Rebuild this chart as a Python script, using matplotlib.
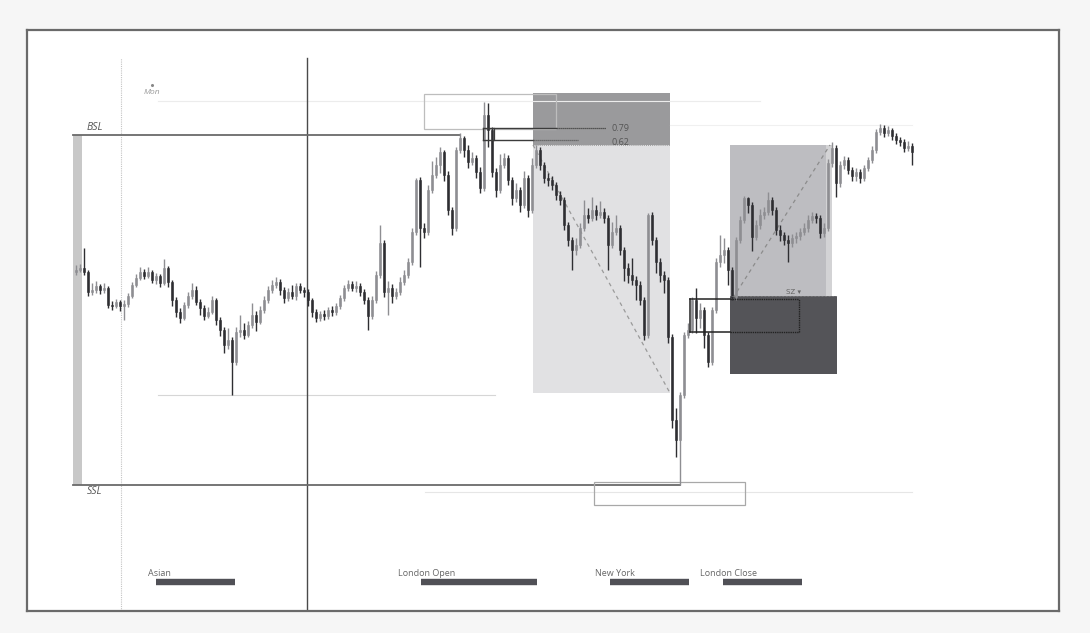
import matplotlib
matplotlib.use("Agg")
import matplotlib.pyplot as plt
from matplotlib.patches import Rectangle
import numpy as np

# ---------------- data (candles: open = previous close) ----------------
first_open = 361
closes = [363, 365, 361, 341, 343, 347, 343, 345, 328, 327, 331, 327, 329, 337, 348, 355, 361, 357, 361, 353,
          357, 350, 365, 351, 333, 321, 315, 328, 337, 343, 331, 325, 317, 321, 333, 313, 303, 288, 293, 271,
          301, 303, 298, 308, 318, 311, 323, 333, 343, 348, 351, 343, 335, 341, 337, 347, 343, 341, 333, 321,
          315, 319, 317, 323, 321, 327, 335, 345, 349, 345, 347, 341, 333, 317, 333, 358, 390, 341, 345, 337,
          341, 351, 358, 371, 401, 453, 405, 401, 443, 458, 468, 481, 458, 423, 405, 483, 495, 483, 471, 475,
          461, 445, 518, 503, 461, 443, 468, 475, 453, 435, 443, 428, 455, 423, 468, 483, 468, 455, 453, 448,
          438, 433, 408, 393, 383, 388, 405, 418, 415, 423, 418, 421, 415, 388, 401, 405, 383, 365, 358, 353,
          348, 333, 298, 418, 393, 371, 358, 353, 296, 213, 193, 238, 298, 303, 333, 315, 323, 298, 271, 323,
          371, 378, 383, 363, 336, 393, 413, 435, 428, 396, 408, 418, 421, 433, 423, 403, 398, 393, 390, 395,
          397, 401, 405, 413, 417, 415, 400, 405, 470, 485, 450, 468, 473, 463, 457, 461, 455, 465, 473, 483,
          501, 505, 500, 503, 497, 493, 491, 485, 487, 481]
highs = [368, 369, 385, 363, 350, 352, 349, 350, 347, 332, 334, 333, 333, 340, 351, 359, 366, 364, 366, 363,
         360, 359, 374, 367, 353, 336, 325, 331, 341, 350, 347, 334, 328, 326, 337, 335, 316, 306, 305, 296,
         306, 318, 310, 312, 330, 322, 327, 337, 347, 353, 356, 354, 346, 345, 348, 350, 350, 346, 344, 335,
         324, 322, 323, 326, 327, 330, 338, 348, 353, 352, 352, 350, 344, 336, 337, 362, 408, 393, 352, 349,
         345, 356, 363, 375, 405, 455, 456, 410, 448, 472, 476, 486, 483, 462, 426, 486, 500, 497, 488, 481,
         478, 466, 531, 530, 506, 465, 479, 480, 478, 456, 450, 446, 462, 458, 475, 488, 486, 471, 460, 457,
         451, 442, 436, 411, 396, 395, 410, 433, 425, 436, 428, 432, 425, 418, 411, 418, 408, 386, 370, 375,
         357, 352, 336, 420, 421, 396, 375, 362, 356, 299, 225, 241, 301, 310, 336, 345, 330, 326, 301, 326,
         375, 398, 395, 386, 366, 396, 417, 437, 436, 431, 413, 424, 426, 441, 436, 426, 408, 401, 398, 399,
         401, 405, 410, 418, 421, 420, 418, 410, 474, 491, 488, 472, 477, 476, 466, 465, 464, 468, 476, 487,
         504, 509, 508, 507, 505, 500, 496, 494, 492, 490]
lows = [358, 361, 358, 337, 338, 340, 339, 340, 325, 323, 325, 322, 313, 326, 335, 346, 353, 354, 355, 350,
        349, 346, 348, 346, 327, 316, 310, 313, 325, 334, 328, 318, 313, 315, 319, 308, 297, 280, 284, 238,
        268, 296, 294, 296, 305, 302, 309, 320, 330, 340, 345, 338, 330, 332, 334, 333, 340, 336, 327, 316,
        311, 312, 313, 314, 317, 318, 324, 332, 342, 342, 341, 337, 329, 303, 314, 330, 355, 336, 318, 330,
        334, 338, 348, 355, 368, 398, 366, 395, 398, 440, 455, 460, 452, 418, 398, 402, 480, 476, 465, 468,
        455, 440, 442, 486, 456, 436, 440, 465, 448, 428, 431, 421, 425, 416, 420, 465, 463, 450, 447, 443,
        433, 428, 403, 387, 363, 378, 385, 402, 410, 412, 413, 415, 410, 363, 385, 398, 378, 352, 350, 348,
        333, 328, 293, 295, 388, 360, 351, 340, 290, 205, 176, 148, 235, 295, 300, 300, 305, 285, 266, 268,
        320, 366, 370, 348, 333, 333, 390, 410, 420, 382, 393, 404, 414, 418, 418, 398, 392, 388, 371, 386,
        390, 393, 398, 401, 410, 410, 395, 396, 402, 466, 436, 446, 464, 459, 452, 452, 450, 452, 462, 470,
        480, 498, 496, 497, 493, 489, 487, 481, 482, 468]

sessions = ["Asian", "London Open", "New York", "London Close"]
session_start = [20, 86.25, 133.5, 161.75]
session_end = [39.75, 115.25, 153.25, 181.5]
session_label_x = [18, 80.5, 129.75, 156]
fib_levels = ["0.79", "0.62"]

opens = [first_open] + closes[:-1]
n = len(closes)
idx = np.arange(n)
o = np.array(opens, float); c = np.array(closes, float)
h = np.array(highs, float); l = np.array(lows, float)

bull_col = "#8e8e92"
bear_col = "#2e2e32"

fig = plt.figure(figsize=(10.9, 6.33), dpi=100)
fig.patch.set_facecolor("#f6f6f6")
ax = fig.add_axes([27/1090, 1-611/633, (1059-27)/1090, (611-30)/633])
ax.set_facecolor("white")
ax.set_xlim(-12.25, 245.75)
ax.set_ylim(22, 603)
ax.set_xticks([]); ax.set_yticks([])
for s in ax.spines.values():
    s.set_color("#6a6a6a"); s.set_linewidth(1.6)

BSL = 498
SSL = l[151]

# zones
ax.add_patch(Rectangle((114.25, 240), 148.5-114.25, 488-240, fc="#e1e1e3", ec="none", zorder=1))
ax.add_patch(Rectangle((114.25, 488), 148.5-114.25, 540-488, fc="#9a9a9c", ec="none", zorder=1))
ax.add_patch(Rectangle((163.5, 337), 189-163.5, 488-337, fc="#bdbdc1", ec="none", zorder=1))
ax.add_patch(Rectangle((187.6, 337), 189-187.6, 488-337, fc="#d3d3d5", ec="none", zorder=1))
ax.add_patch(Rectangle((163.5, 259), 190.25-163.5, 337-259, fc="#545458", ec="none", zorder=1))

# thin reference lines
ax.plot([20.5, 171], [532, 532], color="#ececec", lw=0.8, zorder=1)
ax.plot([148.5, 209], [508, 508], color="#f0f0f0", lw=0.8, zorder=1)
ax.plot([20.5, 104.75], [238, 238], color="#d6d6d6", lw=0.8, zorder=1)
ax.plot([87.25, 209], [141, 141], color="#e6e6e6", lw=0.8, zorder=1)

# verticals
ax.plot([11.25, 11.25], [22, 575], color="#c4c4c4", lw=0.8, ls=(0, (1, 1)), zorder=1)
ax.plot([57.75, 57.75], [22, 575], color="#4a4a4a", lw=1.0, zorder=2)

# left gray bar
ax.add_patch(Rectangle((-0.75, SSL), 2.25, BSL-SSL, fc="#c8c8c8", ec="none", zorder=1))

# BSL / SSL
ax.plot([-0.75, 96], [BSL, BSL], color="#6a6a6a", lw=1.3, zorder=2)
ax.plot([-0.75, 151], [SSL, SSL], color="#6a6a6a", lw=1.3, zorder=2)
ax.text(2.75, 503, "BSL", fontsize=7.5, style="italic", color="#555555", family="Open Sans", zorder=5)
ax.text(2.75, 141, "SSL", fontsize=7.5, style="italic", color="#555555", family="Open Sans", va="center", zorder=5)
ax.text(19, 541, "Mon", fontsize=6, style="italic", color="#9a9a9a", family="Open Sans", ha="center", va="center")
ax.plot([19], [548], marker="o", ms=1.2, color="#888888")

# boxes
ax.add_patch(Rectangle((87, 504), 120-87, 539-504, fc="none", ec="#bdbdbd", lw=0.9, zorder=2))
ax.add_patch(Rectangle((129.5, 128), 167.25-129.5, 151-128, fc="none", ec="#a8a8a8", lw=0.9, zorder=2))

# fib lines
ax.plot([101.75, 120], [505, 505], color="#3c3c3c", lw=1.0, zorder=4)
ax.plot([120, 132.5], [505, 505], color="#3c3c3c", lw=0.9, ls=(0, (1, 0.6)), zorder=4)
ax.plot([101.75, 114.25], [493, 493], color="#3c3c3c", lw=1.0, zorder=4)
ax.plot([114.25, 125.5], [493, 493], color="#5a5a5a", lw=0.9, ls=(0, (1, 0.6)), zorder=4)
ax.plot([101.75, 101.75], [493, 505], color="#3c3c3c", lw=0.9, zorder=4)
ax.plot([104.5, 104.5], [493, 505], color="#3c3c3c", lw=0.9, zorder=4)
ax.plot([114.25, 148.5], [488, 488], color="#8a8a8a", lw=0.6, ls=(0, (1, 1.5)), zorder=4)
ax.text(134, 505, fib_levels[0], fontsize=6.5, color="#555555", family="Open Sans", va="center", zorder=5)
ax.text(134, 491, fib_levels[1], fontsize=6.5, color="#555555", family="Open Sans", va="center", zorder=5)

# dashed diagonals
ax.plot([114.25, 148.5], [488, 240], color="#9a9a9a", lw=0.9, ls=(0, (3, 3)), zorder=2)
ax.plot([164.25, 188.5], [335, 488], color="#8c8c8c", lw=0.9, ls=(0, (3, 3)), zorder=2)

# SZ rectangle
ax.plot([153.5, 163.5], [334, 334], color="#222222", lw=1.1, zorder=4)
ax.plot([153.5, 163.5], [301, 301], color="#222222", lw=1.1, zorder=4)
ax.plot([153.5, 153.5], [301, 334], color="#222222", lw=1.1, zorder=4)
ax.plot([163.5, 180.75], [334, 334], color="#222222", lw=1.0, ls=(0, (1, 0.6)), zorder=4)
ax.plot([163.5, 180.75], [301, 301], color="#222222", lw=1.0, ls=(0, (1, 0.6)), zorder=4)
ax.plot([180.75, 180.75], [301, 334], color="#222222", lw=1.0, ls=(0, (1, 0.6)), zorder=4)
ax.plot([163.5, 190.25], [337, 337], color="#9a9a9a", lw=0.5, ls=(0, (1, 1)), zorder=4)
ax.text(179.25, 341, "SZ ▾", fontsize=5, color="#666666", ha="center", va="center", zorder=5)

# candles
bull = c >= o
cols = np.where(bull, bull_col, bear_col)
ax.vlines(idx, l, h, colors=cols, lw=1.0, zorder=3)
bottoms = np.minimum(o, c)
heights = np.maximum(np.abs(c - o), 1.2)
ax.bar(idx, heights, bottom=bottoms, width=0.72, color=cols, edgecolor=cols, lw=0.4, zorder=3)

# sessions
for name, s0, s1, lx in zip(sessions, session_start, session_end, session_label_x):
    ax.plot([s0, s1], [51, 51], color="#505056", lw=4.6, solid_capstyle="butt", zorder=3)
    ax.text(lx, 60, name, fontsize=6.5, color="#666666", family="Open Sans", va="center", zorder=5)

fig.savefig("out.png", dpi=100, facecolor=fig.get_facecolor())
